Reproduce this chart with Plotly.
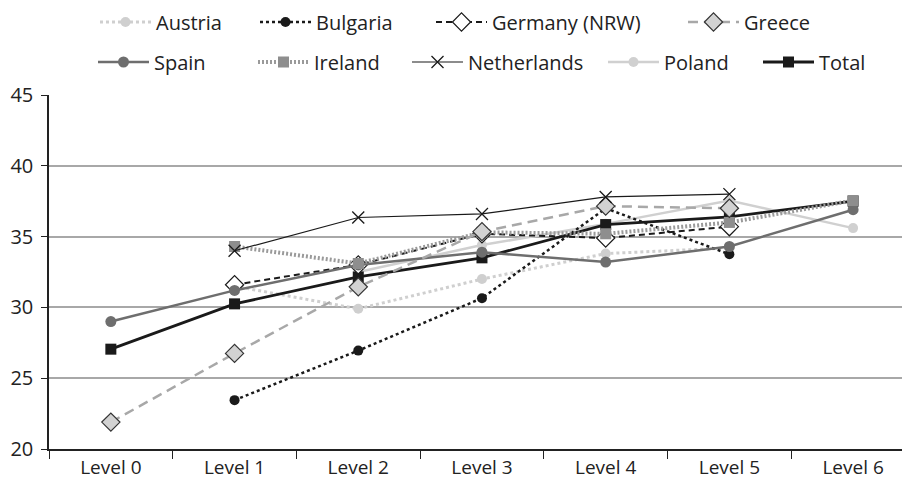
import plotly.graph_objects as go

levels = ["Level 0", "Level 1", "Level 2", "Level 3", "Level 4", "Level 5", "Level 6"]
austria = [None, 31.5, 29.9, 32.0, 33.8, 34.2, None]
bulgaria = [None, 23.45, 26.95, 30.65, 37.0, 33.75, None]
germany = [None, 31.6, 33.0, 35.2, 34.9, 35.7, None]
greece = [21.9, 26.75, 31.45, 35.35, 37.15, 37.0, None]
spain = [29.0, 31.2, 33.0, 33.9, 33.2, 34.3, 36.9]
ireland = [None, 34.3, 33.1, 35.3, 35.2, 36.0, 37.55]
netherlands = [None, 34.0, 36.35, 36.6, 37.8, 38.0, None]
poland = [None, None, 32.5, 34.4, 35.9, 37.55, 35.6]
total = [27.05, 30.25, 32.15, 33.5, 35.85, 36.4, 37.5]

FONT = "Open Sans"
OFF = 8  # page body margin
W, H = 910 - OFF, 481 - OFF

# legend positions in page pixels: (symbol start x, row center y)
series = {
    "Austria": dict(y=austria, line=dict(color="#cfcfcf", width=3, dash="dot"),
                    marker=dict(symbol="circle", size=10, color="#cfcfcf"), leg="legend", pos=(100, 22)),
    "Bulgaria": dict(y=bulgaria, line=dict(color="#1a1a1a", width=2.5, dash="dot"),
                     marker=dict(symbol="circle", size=10, color="#1a1a1a"), leg="legend2", pos=(260, 22)),
    "Germany (NRW)": dict(y=germany, line=dict(color="#1a1a1a", width=2, dash="6px,4px"),
                          marker=dict(symbol="diamond", size=14, color="white", line=dict(color="#1a1a1a", width=1.2)),
                          leg="legend3", pos=(436, 22)),
    "Greece": dict(y=greece, line=dict(color="#a8a8a8", width=2.5, dash="10px,6px"),
                   marker=dict(symbol="diamond", size=14, color="#d2d2d2", line=dict(color="#333333", width=1.2)),
                   leg="legend4", pos=(688, 22)),
    "Spain": dict(y=spain, line=dict(color="#6e6e6e", width=2.5),
                  marker=dict(symbol="circle", size=11, color="#6e6e6e"), leg="legend5", pos=(98, 62)),
    "Ireland": dict(y=ireland, line=dict(color="#9a9a9a", width=4, dash="2px,2px"),
                    marker=dict(symbol="square", size=11, color="#8e8e8e"), leg="legend6", pos=(258, 62)),
    "Netherlands": dict(y=netherlands, line=dict(color="#1a1a1a", width=1.2),
                        marker=dict(symbol="x-thin-open", size=12, color="#1a1a1a", line=dict(color="#1a1a1a", width=1.3)),
                        leg="legend7", pos=(412, 62)),
    "Poland": dict(y=poland, line=dict(color="#d0d0d0", width=2.5),
                   marker=dict(symbol="circle", size=10, color="#d0d0d0"), leg="legend8", pos=(608, 62)),
    "Total": dict(y=total, line=dict(color="#1a1a1a", width=2.8),
                  marker=dict(symbol="square", size=11, color="#1a1a1a"), leg="legend9", pos=(763, 62)),
}

draw_order = ["Poland", "Austria", "Total", "Bulgaria", "Germany (NRW)", "Spain", "Ireland", "Greece", "Netherlands"]

fig = go.Figure()
for name in draw_order:
    s = series[name]
    fig.add_trace(go.Scatter(
        x=levels, y=s["y"], name=name, mode="lines+markers",
        line=s["line"], marker=s["marker"], connectgaps=False,
        legend=s["leg"], showlegend=True,
    ))

layout_legends = {}
for name, s in series.items():
    px, py = s["pos"]
    layout_legends[s["leg"]] = dict(
        x=(px - OFF - 5) / W, y=1 - (py - OFF) / H, xref="container", yref="container",
        xanchor="left", yanchor="middle", orientation="h",
        bgcolor="rgba(0,0,0,0)", borderwidth=0, itemwidth=51,
        font=dict(family=FONT, size=20, color="#222222"),
    )

fig.update_layout(
    width=W, height=H,
    margin=dict(l=49 - OFF, r=0, t=95 - OFF, b=32, pad=0),
    paper_bgcolor="white", plot_bgcolor="white",
    font=dict(family=FONT, size=20, color="#222222"),
    xaxis=dict(
        type="category", range=[-0.5, 6.46], tickson="boundaries",
        ticks="outside", ticklen=8, tickcolor="#222222", tickwidth=1.2,
        showline=True, linecolor="#222222", linewidth=1.5,
        showgrid=False, automargin=False,
        tickfont=dict(family=FONT, size=19, color="#222222"),
    ),
    yaxis=dict(
        range=[20, 45], dtick=5, tick0=20,
        ticks="outside", ticklen=6, tickcolor="#222222", tickwidth=1.2,
        showline=True, linecolor="#222222", linewidth=1.5,
        showgrid=True, gridcolor="#a8a8a8", gridwidth=1.5,
        zeroline=False, automargin=False, ticklabelstandoff=4,
        tickfont=dict(family=FONT, size=20, color="#222222"),
    ),
    **layout_legends,
)

fig.write_html("out.html")
